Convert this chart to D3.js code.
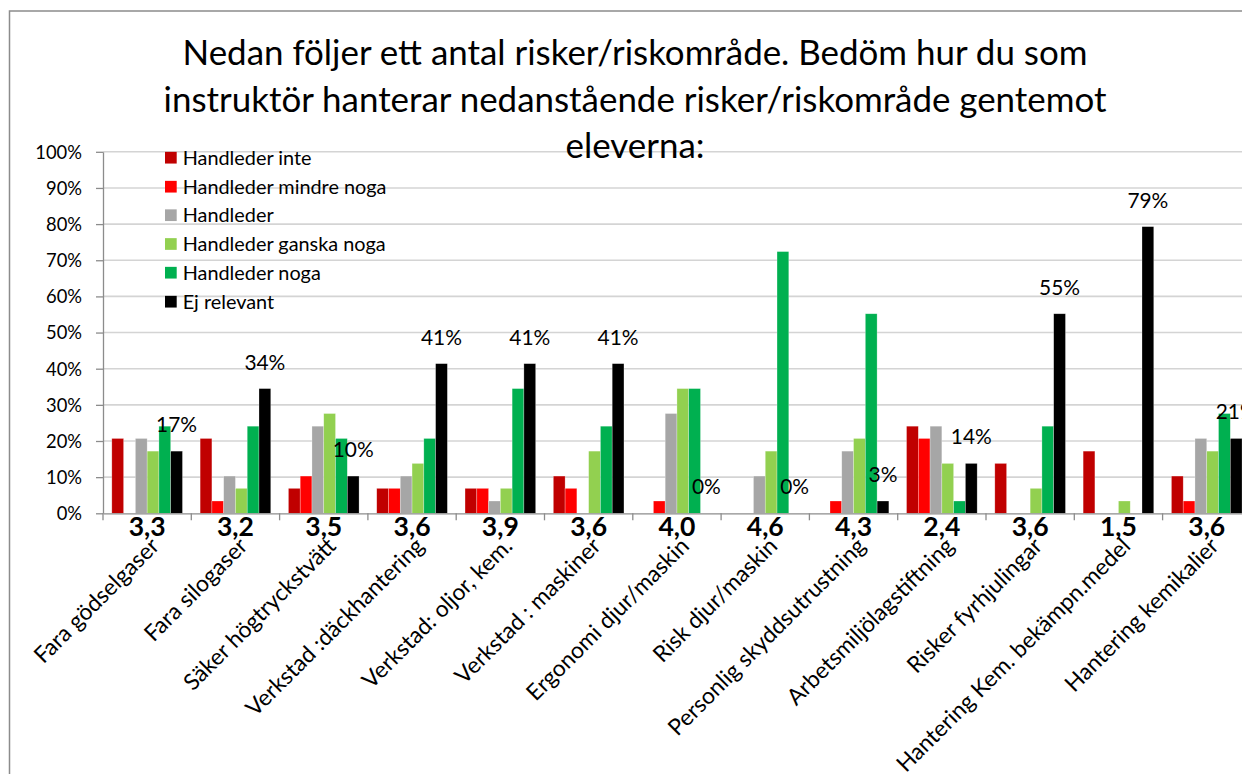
<!DOCTYPE html>
<html><head><meta charset="utf-8">
<script src="https://cdn.jsdelivr.net/npm/d3@7"></script>
<style>
body{margin:0;background:#fff;}
svg{display:block;}
text{font-family:Lato,"Open Sans",sans-serif;fill:#000;}
</style>
</head><body>
<svg id="chart" width="1242" height="774"></svg>
<script>
const titleLines = [
  "Nedan följer ett antal risker/riskområde. Bedöm hur du som",
  "instruktör hanterar nedanstående risker/riskområde gentemot",
  "eleverna:"
];
const categories = ["Fara gödselgaser","Fara silogaser","Säker högtryckstvätt","Verkstad :däckhantering",
  "Verkstad: oljor, kem.","Verkstad : maskiner","Ergonomi djur/maskin","Risk djur/maskin",
  "Personlig skyddsutrustning","Arbetsmiljölagstiftning","Risker fyrhjulingar",
  "Hantering Kem. bekämpn.medel","Hantering kemikalier"];
const averages = ["3,3","3,2","3,5","3,6","3,9","3,6","4,0","4,6","4,3","2,4","3,6","1,5","3,6"];
const seriesNames = ["Handleder inte","Handleder mindre noga","Handleder","Handleder ganska noga","Handleder noga","Ej relevant"];
const seriesColors = ["#C00000","#FF0000","#A6A6A6","#92D050","#00B050","#000000"];
const handlederInte       = [20.7,20.7, 6.9, 6.9, 6.9,10.3, 0.0, 0.0, 0.0,24.1,13.8,17.2,10.3];
const handlederMindreNoga = [ 0.0, 3.4,10.3, 6.9, 6.9, 6.9, 3.4, 0.0, 3.4,20.7, 0.0, 0.0, 3.4];
const handleder           = [20.7,10.3,24.1,10.3, 3.4, 0.0,27.6,10.3,17.2,24.1, 0.0, 0.0,20.7];
const handlederGanskaNoga = [17.2, 6.9,27.6,13.8, 6.9,17.2,34.5,17.2,20.7,13.8, 6.9, 3.4,17.2];
const handlederNoga       = [24.1,24.1,20.7,20.7,34.5,24.1,34.5,72.4,55.2, 3.4,24.1, 0.0,27.6];
const ejRelevant          = [17.2,34.5,10.3,41.4,41.4,41.4, 0.0, 0.0, 3.4,13.8,55.2,79.3,20.7];
const ejRelevantLabels = ["17%","34%","10%","41%","41%","41%","0%","0%","3%","14%","55%","79%","21%"];
const yTicks = [0,10,20,30,40,50,60,70,80,90,100];

const seriesValues = [handlederInte, handlederMindreNoga, handleder, handlederGanskaNoga, handlederNoga, ejRelevant];

const svg = d3.select("#chart");

function fitFactor(sel, target){
  const w = sel.node().getComputedTextLength();
  return target / w;
}

// frame
svg.append("rect").attr("x",9.5).attr("y",11).attr("width",1262).attr("height",800)
  .attr("fill","#fff").attr("stroke","#8c8c8c").attr("stroke-width",1.5);

// geometry
const plotLeft = 103, catW = 88.3;
const plotRight = plotLeft + catW*categories.length;
const y = d3.scaleLinear().domain([0,100]).range([513.3,151.8]);
const x0 = d3.scaleBand().domain(categories).range([plotLeft, plotRight]).padding(0);
const gapWidth = 1.5;
const barW = x0.bandwidth()/(seriesNames.length + gapWidth);
const x1 = d3.scaleBand().domain(seriesNames)
  .range([barW*gapWidth/2, x0.bandwidth()-barW*gapWidth/2]).padding(0);

// gridlines
const grid = svg.append("g");
grid.selectAll("line").data(yTicks.filter(d=>d>0)).join("line")
  .attr("x1",plotLeft).attr("x2",plotRight)
  .attr("y1",d=>y(d)).attr("y2",d=>y(d))
  .attr("stroke","#d4d4d4").attr("stroke-width",1.6);

// y axis
const yAxis = d3.axisLeft(y).tickValues(yTicks).tickFormat(d=>d+"%").tickSize(7).tickSizeOuter(0);
const yg = svg.append("g").attr("transform",`translate(${plotLeft},0)`).call(yAxis);
yg.select(".domain").attr("stroke","#8c8c8c").attr("stroke-width",1.3);
yg.selectAll(".tick line").attr("stroke","#8c8c8c").attr("stroke-width",1.3);
yg.selectAll(".tick text").attr("x",-21).attr("dy","0.35em")
  .attr("font-family","Lato").attr("font-size",20).attr("fill","#000");
const tickFactor = fitFactor(yg.selectAll(".tick text").filter(d=>d===100), 46.7);
const tickFont = 20*tickFactor;
yg.selectAll(".tick text").attr("font-size",tickFont);

// bars
const groups = svg.append("g").selectAll("g").data(categories).join("g")
  .attr("transform",c=>`translate(${x0(c)},0)`);
groups.selectAll("rect").data((c,i)=>seriesNames.map((s,j)=>({s, j, v:seriesValues[j][i]})))
  .join("rect")
  .attr("x",d=>x1(d.s)).attr("width",x1.bandwidth())
  .attr("y",d=>y(d.v)).attr("height",d=>y(0)-y(d.v))
  .attr("fill",d=>seriesColors[d.j])
  .attr("stroke","rgba(255,255,255,0.45)").attr("stroke-width",0.6);

// x axis
const xAxis = d3.axisBottom(x0).tickSize(0).tickFormat("");
const xg = svg.append("g").attr("transform",`translate(0,${y(0)})`).call(xAxis);
xg.select(".domain").attr("stroke","#8c8c8c").attr("stroke-width",1.3);
xg.append("g").selectAll("line").data(d3.range(categories.length+1)).join("line")
  .attr("x1",i=>plotLeft+i*x0.step()).attr("x2",i=>plotLeft+i*x0.step())
  .attr("y1",0).attr("y2",7).attr("stroke","#8c8c8c").attr("stroke-width",1.3);

// data labels on Ej relevant
const dl = svg.append("g").selectAll("text").data(categories).join("text")
  .attr("x",(c)=>x0(c)+x1("Ej relevant")+x1.bandwidth()/2)
  .attr("y",(c,i)=>y(ejRelevant[i])-19)
  .attr("text-anchor","middle").attr("font-size",24)
  .text((c,i)=>ejRelevantLabels[i]);
const dlf = fitFactor(dl.filter((c,i)=>i===3), 41);
dl.attr("font-size",24*dlf);

// averages (bold)
const av = svg.append("g").selectAll("text").data(categories).join("text")
  .attr("x",c=>x0(c)+x0.bandwidth()/2).attr("y",535.5)
  .attr("text-anchor","middle").attr("font-weight","bold").attr("font-size",27)
  .text((c,i)=>averages[i]);
const avf = fitFactor(av.filter((c,i)=>i===0), 37);
av.attr("font-size",27*avf);

// category labels rotated
svg.append("g").selectAll("text").data(categories).join("text")
  .attr("transform",c=>`translate(${x0(c)+x0.bandwidth()/2+1},${535}) rotate(-45)`)
  .attr("text-anchor","end").attr("dominant-baseline","hanging")
  .attr("font-size",tickFont*1.24)
  .text(c=>c);

// legend
const legendY = [157.7,186.7,215.2,244,272.7,301.7];
const lg = svg.append("g").selectAll("g").data(seriesNames).join("g")
  .attr("transform",(d,i)=>`translate(165,${legendY[i]})`);
lg.append("rect").attr("x",0).attr("y",-5.85).attr("width",11.7).attr("height",11.7)
  .attr("fill",(d,i)=>seriesColors[i]);
const lt = lg.append("text").attr("x",17.7).attr("dy","0.35em").attr("font-size",18).text(d=>d);
const ltf = fitFactor(lt.filter((d,i)=>i===1), 204);
lt.attr("font-size",18*ltf);

// title
const tt = svg.append("g").selectAll("text").data(titleLines).join("text")
  .attr("x",635).attr("y",(d,i)=>65+i*46.5)
  .attr("text-anchor","middle").attr("font-size",28).text(d=>d);
const ttf = fitFactor(tt.filter((d,i)=>i===0), 905);
tt.attr("font-size",28*ttf);
</script>
</body></html>
